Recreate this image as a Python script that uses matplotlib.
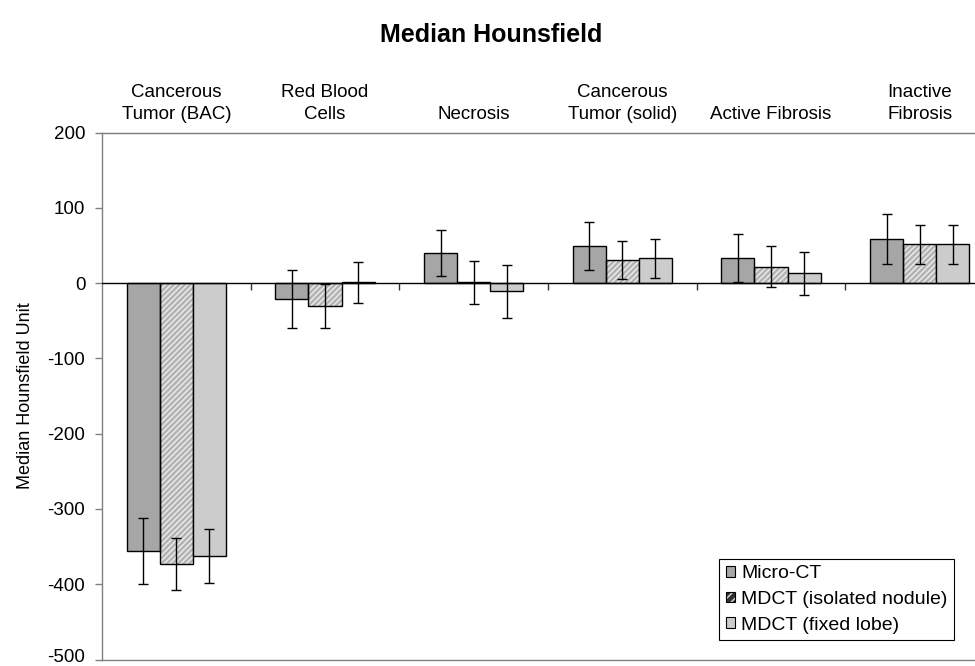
import matplotlib
matplotlib.use("Agg")
import matplotlib.pyplot as plt
import matplotlib.transforms as mtransforms
import numpy as np
from matplotlib.patches import Patch

plt.rcParams['font.family'] = ['Liberation Sans', 'DejaVu Sans']
plt.rcParams['axes.unicode_minus'] = False

categories = ["Cancerous\nTumor (BAC)", "Red Blood\nCells", "Necrosis",
              "Cancerous\nTumor (solid)", "Active Fibrosis", "Inactive\nFibrosis"]
series_names = ["Micro-CT", "MDCT (isolated nodule)", "MDCT (fixed lobe)"]
micro_ct = [-356, -21, 40, 50, 33, 59]
micro_ct_err = [44, 38, 31, 32, 32, 33]
mdct_iso = [-373, -30, 1, 31, 22, 52]
mdct_iso_err = [34, 29, 29, 25, 27, 26]
mdct_lobe = [-362, 1, -11, 33, 13, 52]
mdct_lobe_err = [36, 27, 35, 26, 28, 26]
yticks = [200, 100, 0, -100, -200, -300, -400, -500]

W, H = 975, 666
fig = plt.figure(figsize=(W / 100, H / 100), dpi=100)
ax = fig.add_axes([102 / W, 1 - 659.5 / H, 892 / W, (659.5 - 132.7) / H])

x = np.arange(len(categories))
w = 0.222
colors = ['#a6a6a6', '#b3b3b3', '#cccccc']
values = [micro_ct, mdct_iso, mdct_lobe]
errs = [micro_ct_err, mdct_iso_err, mdct_lobe_err]

for i, (v, e, c) in enumerate(zip(values, errs, colors)):
    pos = x + (i - 1) * w
    if i == 1:
        ax.bar(pos, v, w, color=c, edgecolor='#eeeeee', hatch='//////', linewidth=0, zorder=2)
        ax.bar(pos, v, w, facecolor='none', edgecolor='black', linewidth=1.0, zorder=3)
    else:
        ax.bar(pos, v, w, color=c, edgecolor='black', linewidth=1.0, zorder=3)
    ax.errorbar(pos, v, yerr=e, fmt='none', ecolor='black', elinewidth=1.0,
                capsize=3.3, capthick=1.0, zorder=4)

ax.axhline(0, color='black', linewidth=1.0, zorder=3)
bounds = x[:-1] + 0.5
ax.vlines(bounds, -9, 0, color='#333333', linewidth=1.0, zorder=3)

ax.set_xlim(-0.5, len(categories) - 0.5)
ax.set_ylim(-500, 200)
ax.set_yticks(yticks)
ax.tick_params(axis='y', direction='out', length=5, width=1, color='#808080',
               labelsize=13.5, pad=7)
ax.set_xticks([])
for s in ['left', 'top', 'bottom', 'right']:
    ax.spines[s].set_color('#808080')
    ax.spines[s].set_linewidth(1.0)
ax.set_ylabel("Median Hounsfield Unit", fontsize=13, labelpad=10)

sec = ax.secondary_xaxis('top')
sec.set_xticks(x)
sec.set_xticklabels(categories, fontsize=13.5, linespacing=1.42)
sec.tick_params(length=0, pad=7)
sec.spines['top'].set_color('#808080')

fig.text(491 / W, 1 - 42 / H, "Median Hounsfield", ha='center', va='baseline',
         fontsize=18, fontweight='bold')

handles = [Patch(facecolor=colors[0], edgecolor='black', linewidth=0.8),
           (Patch(facecolor='#303030', edgecolor='#dddddd', hatch='////', linewidth=0),
            Patch(facecolor='none', edgecolor='black', linewidth=0.8)),
           Patch(facecolor=colors[2], edgecolor='black', linewidth=0.8)]
leg = ax.legend(handles, series_names, loc='upper left',
                bbox_to_anchor=(719.3 / W, 1 - 559 / H), bbox_transform=fig.transFigure,
                fontsize=14, frameon=True, fancybox=False, framealpha=1,
                edgecolor='black', handlelength=0.48, handleheight=0.48,
                handletextpad=0.3, borderpad=0.33, labelspacing=0.44, borderaxespad=0)
leg.get_frame().set_linewidth(0.8)

fig.canvas.draw()
for t in ax.yaxis.get_major_ticks():
    if abs(t.get_loc() - (-500)) < 1e-6:
        t.label1.set_transform(t.label1.get_transform() +
                               mtransforms.ScaledTranslation(0, 4 / 100, fig.dpi_scale_trans))

fig.savefig("out.png", dpi=100)
